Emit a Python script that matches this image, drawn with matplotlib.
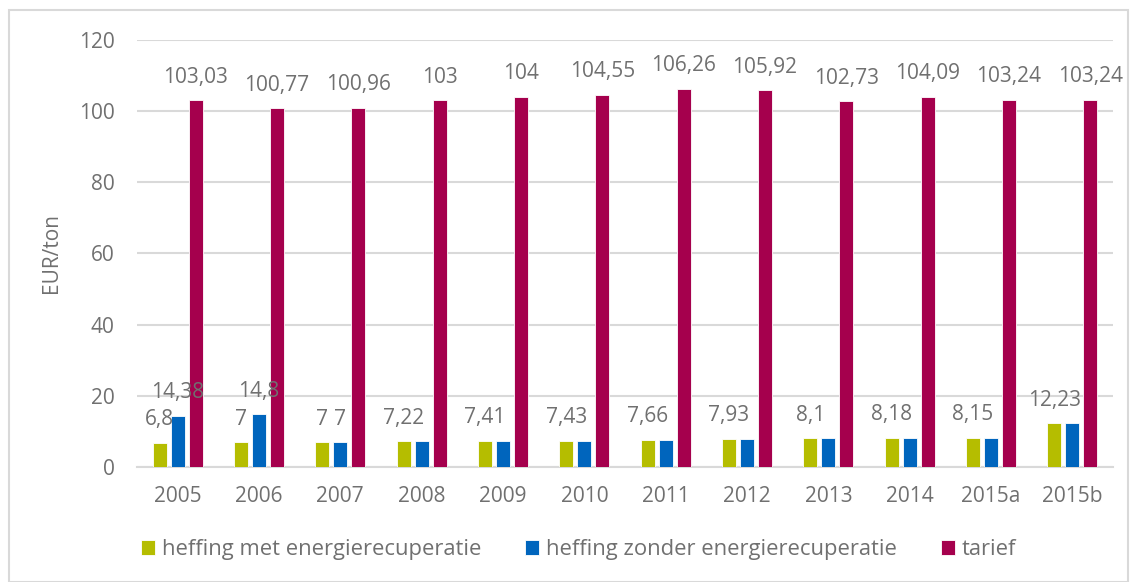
import matplotlib
matplotlib.use("Agg")
import matplotlib.pyplot as plt
import numpy as np
from matplotlib.patches import Rectangle

plt.rcParams.update({'font.family': ['Open Sans', 'DejaVu Sans']})

# Data
categories = ["2005", "2006", "2007", "2008", "2009", "2010", "2011",
              "2012", "2013", "2014", "2015a", "2015b"]
heffing_met = [6.8, 7, 7, 7.22, 7.41, 7.43, 7.66, 7.93, 8.1, 8.18, 8.15, 12.23]
heffing_zonder = [14.38, 14.8, 7, 7.22, 7.41, 7.43, 7.66, 7.93, 8.1, 8.18, 8.15, 12.23]
tarief = [103.03, 100.77, 100.96, 103, 104, 104.55, 106.26, 105.92,
          102.73, 104.09, 103.24, 103.24]
# blue labels that stay visible (others hidden behind the green ones)
zonder_labels_shown = [True, True, True] + [False] * 9

series_names = ["heffing met energierecuperatie",
                "heffing zonder energierecuperatie", "tarief"]
colors = ["#B5BD00", "#0065BD", "#A5004D"]
text_color = "#707070"
grid_color = "#D9D9D9"
font_size = 15

def fmt(v):
    s = ("%.2f" % v).rstrip("0").rstrip(".")
    return s.replace(".", ",")

fig = plt.figure(figsize=(11.3, 5.82), dpi=100)
ax = fig.add_axes([0.1212, 0.1976, 0.9850 - 0.1212, 0.9313 - 0.1976])

# outer chart border
fig.patches.append(Rectangle((0.008, 0.0), 0.99, 0.983, transform=fig.transFigure,
                             fill=False, edgecolor="#D9D9D9", linewidth=1.5))

x = np.arange(len(categories))
width = 0.172
step = 0.221
all_series = [heffing_met, heffing_zonder, tarief]
bars = []
for i, vals in enumerate(all_series):
    b = ax.bar(x + (i - 1) * step, vals, width, color=colors[i],
               edgecolor="white", linewidth=0.6, label=series_names[i], zorder=3)
    bars.append(b)

# data labels
for j in range(len(categories)):
    ax.annotate(fmt(heffing_met[j]), (x[j] - step, heffing_met[j]),
                xytext=(0, 9), textcoords="offset points", ha="center",
                va="bottom", fontsize=font_size, color=text_color, zorder=5)
    if zonder_labels_shown[j]:
        ax.annotate(fmt(heffing_zonder[j]), (x[j], heffing_zonder[j]),
                    xytext=(0, 9), textcoords="offset points", ha="center",
                    va="bottom", fontsize=font_size, color=text_color, zorder=5)
    ax.annotate(fmt(tarief[j]), (x[j] + step, tarief[j]),
                xytext=(0, 9), textcoords="offset points", ha="center",
                va="bottom", fontsize=font_size, color=text_color, zorder=5)

ax.set_xlim(-0.5, len(categories) - 0.5)
ax.set_ylim(0, 120)
ax.set_yticks(range(0, 121, 20))
ax.set_xticks(x)
ax.set_xticklabels(categories)
ax.yaxis.grid(True, color=grid_color, linewidth=1.5, zorder=0)
ax.set_axisbelow(True)
for side in ["left", "right", "top"]:
    ax.spines[side].set_visible(False)
ax.spines["bottom"].set_color(grid_color)
ax.spines["bottom"].set_linewidth(1.5)
ax.tick_params(axis="both", length=0, labelsize=font_size, labelcolor=text_color)
ax.tick_params(axis="x", pad=14)
ax.tick_params(axis="y", pad=16)
ax.set_ylabel("EUR/ton", fontsize=font_size, color=text_color, labelpad=12)

leg = fig.legend(handles=bars, labels=series_names, loc="center",
                 bbox_to_anchor=(0.512, 0.055), ncol=3, frameon=False,
                 fontsize=15.8, handlelength=0.65, handleheight=0.65,
                 handletextpad=0.3, columnspacing=2.0)
for t in leg.get_texts():
    t.set_color(text_color)

fig.savefig("out.png", dpi=100)
